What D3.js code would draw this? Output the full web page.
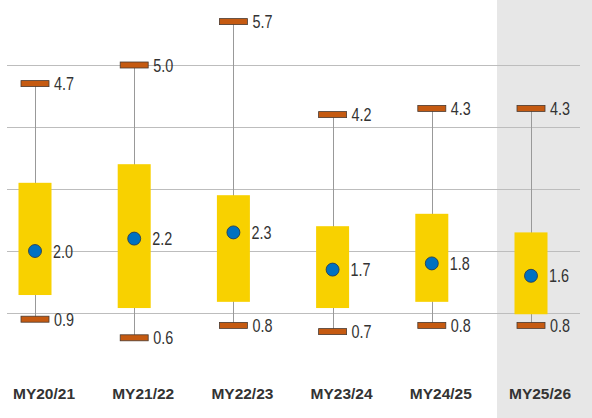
<!DOCTYPE html>
<html lang="en">
<head>
<meta charset="utf-8">
<script src="https://d3js.org/d3.v7.min.js"></script>
<style>
  body { margin: 0; background: #fff; }
  .val { font-family: "Liberation Sans Narrow", "Arial Narrow", "Liberation Sans", sans-serif; font-size: 18.5px; fill: #333; }
  .cat { font-family: "Liberation Sans", Arial, sans-serif; font-size: 15.5px; font-weight: bold; fill: #333; }
</style>
</head>
<body>
<svg width="592" height="418"></svg>
<script>
// marketing years
var categories = ["MY20/21", "MY21/22", "MY22/23", "MY23/24", "MY24/25", "MY25/26"];
var highs   = [4.7, 5.0, 5.7, 4.2, 4.3, 4.3];
var lows    = [0.9, 0.6, 0.8, 0.7, 0.8, 0.8];
var means   = [2.0, 2.2, 2.3, 1.7, 1.8, 1.6];
var boxTops = [3.1, 3.4, 2.9, 2.4, 2.6, 2.3];
var boxBots = [1.29, 1.08, 1.18, 1.08, 1.18, 0.98];
var gridVals = [1, 2, 3, 4, 5];
var shaded = "MY25/26";

var svg = d3.select("svg");

var x = d3.scalePoint().domain(categories).range([35, 531]);
var y = d3.scaleLinear().domain([1, 5]).range([313, 65]);

// projection column
svg.append("rect")
  .attr("x", x(shaded) - 34).attr("y", 0)
  .attr("width", 592 - (x(shaded) - 34)).attr("height", 418)
  .attr("fill", "#e7e7e7");

svg.append("g").selectAll("line")
  .data(gridVals).enter().append("line")
  .attr("x1", 7).attr("x2", 580)
  .attr("y1", function(d) { return Math.round(y(d)) + 0.5; })
  .attr("y2", function(d) { return Math.round(y(d)) + 0.5; })
  .attr("stroke", "#bdbdbd").attr("stroke-width", 1);

var rows = categories.map(function(c, i) {
  return { cat: c, hi: highs[i], lo: lows[i], mean: means[i], top: boxTops[i], bot: boxBots[i] };
});

var g = svg.append("g").selectAll("g").data(rows).enter().append("g");

g.append("line")
  .attr("x1", function(d) { return Math.round(x(d.cat)) + 0.5; })
  .attr("x2", function(d) { return Math.round(x(d.cat)) + 0.5; })
  .attr("y1", function(d) { return y(d.hi); })
  .attr("y2", function(d) { return y(d.lo); })
  .attr("stroke", "#999").attr("stroke-width", 1);

g.append("rect")
  .attr("x", function(d) { return x(d.cat) - 16.5; })
  .attr("width", 33)
  .attr("y", function(d) { return y(d.top); })
  .attr("height", function(d) { return y(d.bot) - y(d.top); })
  .attr("fill", "#f8d100");

["hi", "lo"].forEach(function(k) {
  g.append("rect")
    .attr("x", function(d) { return x(d.cat) - 14; })
    .attr("width", 28)
    .attr("y", function(d) { return y(d[k]) - 3; })
    .attr("height", 6)
    .attr("fill", "#c55a11")
    .attr("stroke", "#4a3a30").attr("stroke-width", 0.8);

  g.append("text").attr("class", "val")
    .attr("x", function(d) { return x(d.cat) + 19; })
    .attr("y", function(d) { return y(d[k]); })
    .attr("dy", "0.36em")
    .attr("textLength", 20)
    .attr("lengthAdjust", "spacingAndGlyphs")
    .text(function(d) { return d3.format(".1f")(d[k]); });
});

g.append("circle")
  .attr("cx", function(d) { return x(d.cat); })
  .attr("cy", function(d) { return y(d.mean); })
  .attr("r", 6.5)
  .attr("fill", "#0071c1")
  .attr("stroke", "#1f3550").attr("stroke-width", 0.8);

g.append("text").attr("class", "val")
  .attr("x", function(d) { return x(d.cat) + 18; })
  .attr("y", function(d) { return y(d.mean); })
  .attr("dy", "0.36em")
  .attr("textLength", 20)
  .attr("lengthAdjust", "spacingAndGlyphs")
  .text(function(d) { return d3.format(".1f")(d.mean); });

// category labels
svg.append("g").selectAll("text")
  .data(categories).enter().append("text")
  .attr("class", "cat")
  .attr("x", function(d) { return x(d) + 9; })
  .attr("y", 393)
  .attr("dy", "0.36em")
  .attr("text-anchor", "middle")
  .text(function(d) { return d; });
</script>
</body>
</html>
